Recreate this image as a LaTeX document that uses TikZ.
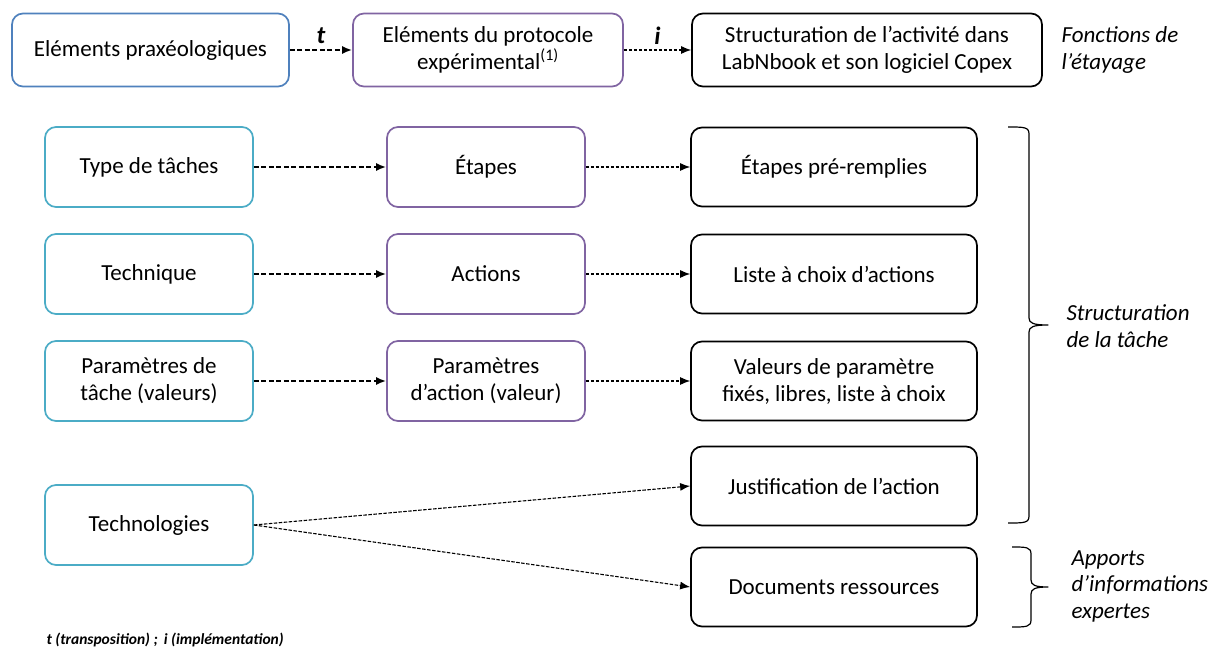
\documentclass[tikz,border=0pt]{standalone}
\usepackage{fontspec}
\setmainfont{Carlito}
\usetikzlibrary{arrows.meta}
\definecolor{cblue}{HTML}{4F81BD}
\definecolor{cteal}{HTML}{4BACC6}
\definecolor{cpurple}{HTML}{8064A2}
\tikzset{
  box/.style={draw, line width=1.7pt, rounded corners=11pt, align=center, font=\fontsize{23}{27}\selectfont, inner sep=2pt},
  leftbox/.style={box, draw=cteal, minimum width=208pt, minimum height=80pt},
  midbox/.style={box, draw=cpurple, minimum width=198pt, minimum height=80pt},
  rightbox/.style={box, draw=black, minimum width=286pt, minimum height=79pt},
  thickarr/.style={-{Latex[length=10pt,width=8pt]}, line width=1.8pt, dash pattern=on 5pt off 2.5pt},
  thinarr/.style={-{Latex[length=10pt,width=8pt]}, line width=1.1pt, dash pattern=on 3.5pt off 1.5pt},
  sidetext/.style={anchor=west, align=left, font=\fontsize{23}{26.5}\selectfont\itshape},
  lbl/.style={font=\fontsize{25}{25}\selectfont\bfseries\itshape},
  bracestyle/.style={line width=1.2pt, line join=round}
}
\begin{document}
\begin{tikzpicture}[x=1pt,y=-1pt]
\useasboundingbox[fill=white] (0,0) rectangle (1211,652);
% top row
\node[box, draw=cblue, minimum width=277pt, minimum height=73pt] (A) at (150.5,50) {Eléments praxéologiques};
\node[box, draw=cpurple, minimum width=270pt, minimum height=73pt] (B) at (488,50) {Eléments du protocole\\expérimental\textsuperscript{(1)}};
\node[box, draw=black, minimum width=350pt, minimum height=73pt] (C) at (867,50) {Structuration de l’activité dans\\LabNbook et son logiciel Copex};
\draw[thickarr] (A.east) -- node[above=2pt, lbl] {t} (B.west);
\draw[thinarr] (B.east) -- node[above=2pt, lbl] {i} (C.west);
\node[sidetext] (fe) at (1058,50) {Fonctions de\\l’étayage};
% rows
\node[leftbox] (L1) at (149,167) {Type de tâches};
\node[midbox] (M1) at (486,167) {Étapes};
\node[rightbox] (R1) at (834,167) {Étapes pré-remplies};
\node[leftbox] (L2) at (149,274) {Technique};
\node[midbox] (M2) at (486,274) {Actions};
\node[rightbox] (R2) at (834,274) {Liste à choix d’actions};
\node[leftbox] (L3) at (149,381) {Paramètres de\\tâche (valeurs)};
\node[midbox] (M3) at (486,381) {Paramètres\\d’action (valeur)};
\node[rightbox] (R3) at (834,381) {Valeurs de paramètre\\fixés, libres, liste à choix};
\node[rightbox] (R4) at (834,486) {Justification de l’action};
\node[leftbox] (L4) at (149,525) {Technologies};
\node[rightbox] (R5) at (834,587) {Documents ressources};
\foreach \i in {1,2,3}{
  \draw[thickarr] (L\i.east) -- (M\i.west);
  \draw[thinarr] (M\i.east) -- (R\i.west);
}
\draw[thinarr] (L4.east) -- (R4.west);
\draw[thinarr] (L4.east) -- (R5.west);
% brace 1
\coordinate (b1t) at (1008,127);
\coordinate (b1m) at (1048,325);
\coordinate (b1b) at (1008,523);
\draw[bracestyle] (b1t) .. controls (1024,127) and (1029,127) .. (1029,134) -- (1029,318)
  .. controls (1029,323) and (1033,325) .. (b1m)
  .. controls (1033,325) and (1029,327) .. (1029,332) -- (1029,516)
  .. controls (1029,523) and (1024,523) .. (b1b);
\node[sidetext] (st) at (1063,326) {Structuration\\de la tâche};
% brace 2
\coordinate (b2t) at (1012,547);
\coordinate (b2m) at (1048,587);
\coordinate (b2b) at (1012,627);
\draw[bracestyle] (b2t) .. controls (1026,547) and (1031,547) .. (1031,554) -- (1031,580)
  .. controls (1031,585) and (1035,587) .. (b2m)
  .. controls (1035,587) and (1031,589) .. (1031,594) -- (1031,620)
  .. controls (1031,627) and (1026,627) .. (b2b);
\node[sidetext] (ap) at (1068,586) {Apports\\d’informations\\expertes};
% footer
\node[anchor=west, font=\fontsize{15.5}{17}\selectfont\bfseries\itshape] (ft) at (43,640) {t (transposition) ;\, i (implémentation)};
\end{tikzpicture}
\end{document}
